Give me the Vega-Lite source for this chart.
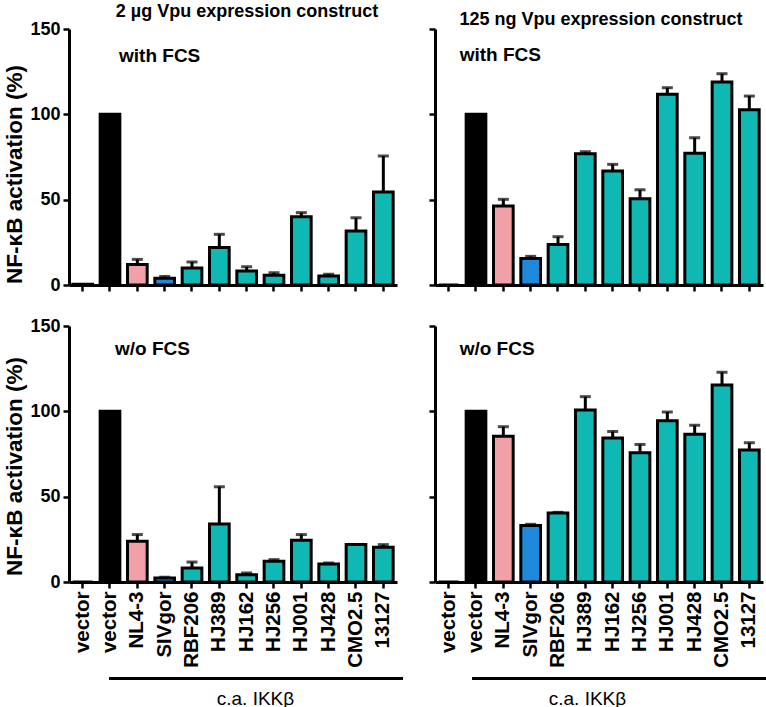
{
  "$schema": "https://vega.github.io/schema/vega-lite/v6.json",
  "background": "white",
  "padding": {"left": 2, "top": 3, "right": 0, "bottom": 0},
  "config": {
    "font": "Liberation Sans",
    "view": {"stroke": null},
    "axis": {
      "domainColor": "black", "domainWidth": 3, "tickColor": "black", "tickWidth": 2.5, "tickSize": 6,
      "labelFont": "Liberation Sans", "labelFontSize": 18, "labelFontWeight": "bold", "labelColor": "black", "labelPadding": 3,
      "titleFont": "Liberation Sans", "titleFontSize": 18, "titleFontWeight": "bold", "titleColor": "black", "grid": false
    },
    "title": {"font": "Liberation Sans", "fontSize": 18, "fontWeight": "bold", "color": "black", "anchor": "middle", "offset": -1}
  },
  "datasets": {
    "bars": [
      {"panel": "TL", "condition": "with FCS", "key": "v0", "group": "control", "value": 0.5},
      {"panel": "TL", "condition": "with FCS", "key": "v1", "group": "control", "value": 100},
      {"panel": "TL", "condition": "with FCS", "key": "NL4-3", "group": "NL4-3", "value": 12, "err": 15},
      {"panel": "TL", "condition": "with FCS", "key": "SIVgor", "group": "SIVgor", "value": 4, "err": 5},
      {"panel": "TL", "condition": "with FCS", "key": "RBF206", "group": "Vpu", "value": 10, "err": 13.5},
      {"panel": "TL", "condition": "with FCS", "key": "HJ389", "group": "Vpu", "value": 22, "err": 29.7},
      {"panel": "TL", "condition": "with FCS", "key": "HJ162", "group": "Vpu", "value": 8.2, "err": 10.7},
      {"panel": "TL", "condition": "with FCS", "key": "HJ256", "group": "Vpu", "value": 5.7, "err": 7.2},
      {"panel": "TL", "condition": "with FCS", "key": "HJ001", "group": "Vpu", "value": 40, "err": 42.4},
      {"panel": "TL", "condition": "with FCS", "key": "HJ428", "group": "Vpu", "value": 5.3, "err": 6.3},
      {"panel": "TL", "condition": "with FCS", "key": "CMO2.5", "group": "Vpu", "value": 31.6, "err": 39.4},
      {"panel": "TL", "condition": "with FCS", "key": "13127", "group": "Vpu", "value": 54.5, "err": 75.6},

      {"panel": "TR", "condition": "with FCS", "key": "v0", "group": "control", "value": 0},
      {"panel": "TR", "condition": "with FCS", "key": "v1", "group": "control", "value": 100},
      {"panel": "TR", "condition": "with FCS", "key": "NL4-3", "group": "NL4-3", "value": 46.3, "err": 50.2},
      {"panel": "TR", "condition": "with FCS", "key": "SIVgor", "group": "SIVgor", "value": 15.6, "err": 16.8},
      {"panel": "TR", "condition": "with FCS", "key": "RBF206", "group": "Vpu", "value": 23.8, "err": 28.3},
      {"panel": "TR", "condition": "with FCS", "key": "HJ389", "group": "Vpu", "value": 76.9, "err": 78.1},
      {"panel": "TR", "condition": "with FCS", "key": "HJ162", "group": "Vpu", "value": 66.8, "err": 70.7},
      {"panel": "TR", "condition": "with FCS", "key": "HJ256", "group": "Vpu", "value": 50.6, "err": 55.8},
      {"panel": "TR", "condition": "with FCS", "key": "HJ001", "group": "Vpu", "value": 111.7, "err": 115.6},
      {"panel": "TR", "condition": "with FCS", "key": "HJ428", "group": "Vpu", "value": 77.2, "err": 86.3},
      {"panel": "TR", "condition": "with FCS", "key": "CMO2.5", "group": "Vpu", "value": 118.9, "err": 123.8},
      {"panel": "TR", "condition": "with FCS", "key": "13127", "group": "Vpu", "value": 102.7, "err": 110.7},

      {"panel": "BL", "condition": "w/o FCS", "key": "v0", "group": "control", "value": 0},
      {"panel": "BL", "condition": "w/o FCS", "key": "v1", "group": "control", "value": 100},
      {"panel": "BL", "condition": "w/o FCS", "key": "NL4-3", "group": "NL4-3", "value": 23.9, "err": 27.8},
      {"panel": "BL", "condition": "w/o FCS", "key": "SIVgor", "group": "SIVgor", "value": 2.4, "err": 2.8},
      {"panel": "BL", "condition": "w/o FCS", "key": "RBF206", "group": "Vpu", "value": 8.2, "err": 11.7},
      {"panel": "BL", "condition": "w/o FCS", "key": "HJ389", "group": "Vpu", "value": 34, "err": 55.8},
      {"panel": "BL", "condition": "w/o FCS", "key": "HJ162", "group": "Vpu", "value": 4.3, "err": 5.3},
      {"panel": "BL", "condition": "w/o FCS", "key": "HJ256", "group": "Vpu", "value": 12.1, "err": 13.1},
      {"panel": "BL", "condition": "w/o FCS", "key": "HJ001", "group": "Vpu", "value": 24.5, "err": 27.8},
      {"panel": "BL", "condition": "w/o FCS", "key": "HJ428", "group": "Vpu", "value": 10.6, "err": 11.2},
      {"panel": "BL", "condition": "w/o FCS", "key": "CMO2.5", "group": "Vpu", "value": 21.9},
      {"panel": "BL", "condition": "w/o FCS", "key": "13127", "group": "Vpu", "value": 20.4, "err": 21.9},

      {"panel": "BR", "condition": "w/o FCS", "key": "v0", "group": "control", "value": 0},
      {"panel": "BR", "condition": "w/o FCS", "key": "v1", "group": "control", "value": 100},
      {"panel": "BR", "condition": "w/o FCS", "key": "NL4-3", "group": "NL4-3", "value": 85.4, "err": 91},
      {"panel": "BR", "condition": "w/o FCS", "key": "SIVgor", "group": "SIVgor", "value": 33.1, "err": 33.8},
      {"panel": "BR", "condition": "w/o FCS", "key": "RBF206", "group": "Vpu", "value": 40.4, "err": 40.8},
      {"panel": "BR", "condition": "w/o FCS", "key": "HJ389", "group": "Vpu", "value": 100.8, "err": 108.6},
      {"panel": "BR", "condition": "w/o FCS", "key": "HJ162", "group": "Vpu", "value": 84.4, "err": 88.2},
      {"panel": "BR", "condition": "w/o FCS", "key": "HJ256", "group": "Vpu", "value": 75.8, "err": 80.6},
      {"panel": "BR", "condition": "w/o FCS", "key": "HJ001", "group": "Vpu", "value": 94.5, "err": 99.6},
      {"panel": "BR", "condition": "w/o FCS", "key": "HJ428", "group": "Vpu", "value": 86.5, "err": 91.8},
      {"panel": "BR", "condition": "w/o FCS", "key": "CMO2.5", "group": "Vpu", "value": 115.5, "err": 122.9},
      {"panel": "BR", "condition": "w/o FCS", "key": "13127", "group": "Vpu", "value": 77.3, "err": 81.6}
    ]
  },
  "columns": 2,
  "bounds": "flush",
  "spacing": {"row": 41, "column": 38},
  "concat": [
    {
      "width": 328, "height": 256,
      "title": {"text": "2 µg Vpu expression construct", "dx": 14},
      "data": {"name": "bars"},
      "transform": [{"filter": "datum.panel == 'TL'"}],
      "layer": [
        {
          "mark": {"type": "bar", "stroke": "black", "strokeWidth": 3},
          "encoding": {
            "x": {"field": "key", "type": "nominal",
                  "scale": {"domain": ["v0","v1","NL4-3","SIVgor","RBF206","HJ389","HJ162","HJ256","HJ001","HJ428","CMO2.5","13127"], "paddingInner": 0.28, "paddingOuter": 0.14},
                  "axis": {"labels": false, "title": null}},
            "y": {"field": "value", "type": "quantitative", "scale": {"domain": [0, 150], "nice": false},
                  "axis": {"values": [0, 50, 100, 150], "title": "NF-κB activation (%)", "titleFontSize": 22.5, "titleX": -48, "titleY": 145, "titleAlign": "center", "titleBaseline": "alphabetic", "titleAngle": -90}},
            "color": {"field": "group", "type": "nominal", "legend": null,
                      "scale": {"domain": ["control","NL4-3","SIVgor","Vpu"], "range": ["#000000","#F0A0A6","#1E88DA","#10B8B3"]}}
          }
        },
        {
          "transform": [{"filter": "isValid(datum.err)"}],
          "mark": {"type": "rule", "strokeWidth": 3, "color": "black"},
          "encoding": {"x": {"field": "key", "type": "nominal"}, "y": {"field": "value", "type": "quantitative"}, "y2": {"field": "err"}}
        },
        {
          "transform": [{"filter": "isValid(datum.err)"}],
          "mark": {"type": "tick", "thickness": 3, "size": 11, "color": "black"},
          "encoding": {"x": {"field": "key", "type": "nominal"}, "y": {"field": "err", "type": "quantitative"}}
        },
        {
          "transform": [{"filter": "datum.key == 'v1'"}],
          "mark": {"type": "text", "align": "left", "baseline": "middle", "dx": 9, "fontSize": 19, "fontWeight": "bold", "color": "black"},
          "encoding": {"x": {"field": "key", "type": "nominal"}, "y": {"datum": 134}, "text": {"field": "condition"}}
        }
      ]
    },
    {
      "width": 328, "height": 256,
      "title": {"text": "125 ng Vpu expression construct", "dx": 2},
      "data": {"name": "bars"},
      "transform": [{"filter": "datum.panel == 'TR'"}],
      "layer": [
        {
          "mark": {"type": "bar", "stroke": "black", "strokeWidth": 3},
          "encoding": {
            "x": {"field": "key", "type": "nominal",
                  "scale": {"domain": ["v0","v1","NL4-3","SIVgor","RBF206","HJ389","HJ162","HJ256","HJ001","HJ428","CMO2.5","13127"], "paddingInner": 0.28, "paddingOuter": 0.14},
                  "axis": {"labels": false, "title": null}},
            "y": {"field": "value", "type": "quantitative", "scale": {"domain": [0, 150], "nice": false},
                  "axis": {"values": [0, 50, 100, 150], "labels": false, "title": null}},
            "color": {"field": "group", "type": "nominal", "legend": null,
                      "scale": {"domain": ["control","NL4-3","SIVgor","Vpu"], "range": ["#000000","#F0A0A6","#1E88DA","#10B8B3"]}}
          }
        },
        {
          "transform": [{"filter": "isValid(datum.err)"}],
          "mark": {"type": "rule", "strokeWidth": 3, "color": "black"},
          "encoding": {"x": {"field": "key", "type": "nominal"}, "y": {"field": "value", "type": "quantitative"}, "y2": {"field": "err"}}
        },
        {
          "transform": [{"filter": "isValid(datum.err)"}],
          "mark": {"type": "tick", "thickness": 3, "size": 11, "color": "black"},
          "encoding": {"x": {"field": "key", "type": "nominal"}, "y": {"field": "err", "type": "quantitative"}}
        },
        {
          "transform": [{"filter": "datum.key == 'v0'"}],
          "mark": {"type": "text", "align": "left", "baseline": "middle", "dx": 11, "fontSize": 19, "fontWeight": "bold", "color": "black"},
          "encoding": {"x": {"field": "key", "type": "nominal"}, "y": {"datum": 134.5}, "text": {"field": "condition"}}
        }
      ]
    },
    {
      "width": 328, "height": 256,
      "data": {"name": "bars"},
      "transform": [{"filter": "datum.panel == 'BL'"}],
      "layer": [
        {
          "mark": {"type": "bar", "stroke": "black", "strokeWidth": 3},
          "encoding": {
            "x": {"field": "key", "type": "nominal",
                  "scale": {"domain": ["v0","v1","NL4-3","SIVgor","RBF206","HJ389","HJ162","HJ256","HJ001","HJ428","CMO2.5","13127"], "paddingInner": 0.28, "paddingOuter": 0.14},
                  "axis": {"labelAngle": -90, "labelAlign": "right", "labelBaseline": "middle", "labelFontSize": 20.5,
                           "labelExpr": "datum.value == 'v0' || datum.value == 'v1' ? 'vector' : datum.label",
                           "title": "c.a. IKKβ", "titleFontWeight": "normal", "titleFontSize": 19, "titleX": 186, "titleY": 116, "titleBaseline": "middle"}},
            "y": {"field": "value", "type": "quantitative", "scale": {"domain": [0, 150], "nice": false},
                  "axis": {"values": [0, 50, 100, 150], "title": "NF-κB activation (%)", "titleFontSize": 22.5, "titleX": -48, "titleY": 140, "titleAlign": "center", "titleBaseline": "alphabetic", "titleAngle": -90}},
            "color": {"field": "group", "type": "nominal", "legend": null,
                      "scale": {"domain": ["control","NL4-3","SIVgor","Vpu"], "range": ["#000000","#F0A0A6","#1E88DA","#10B8B3"]}}
          }
        },
        {
          "transform": [{"filter": "isValid(datum.err)"}],
          "mark": {"type": "rule", "strokeWidth": 3, "color": "black"},
          "encoding": {"x": {"field": "key", "type": "nominal"}, "y": {"field": "value", "type": "quantitative"}, "y2": {"field": "err"}}
        },
        {
          "transform": [{"filter": "isValid(datum.err)"}],
          "mark": {"type": "tick", "thickness": 3, "size": 11, "color": "black"},
          "encoding": {"x": {"field": "key", "type": "nominal"}, "y": {"field": "err", "type": "quantitative"}}
        },
        {
          "transform": [{"filter": "datum.key == 'v1'"}],
          "mark": {"type": "text", "align": "left", "baseline": "middle", "dx": 5, "fontSize": 19, "fontWeight": "bold", "color": "black"},
          "encoding": {"x": {"field": "key", "type": "nominal"}, "y": {"datum": 136.5}, "text": {"field": "condition"}}
        },
        {
          "transform": [{"filter": "datum.key == 'v1'"}],
          "mark": {"type": "rule", "strokeWidth": 3, "color": "black", "clip": false},
          "encoding": {"x": {"field": "key", "type": "nominal", "bandPosition": 0.45}, "x2": {"datum": "13127", "bandPosition": 1.5}, "y": {"datum": -56.5}}
        }
      ]
    },
    {
      "width": 328, "height": 256,
      "data": {"name": "bars"},
      "transform": [{"filter": "datum.panel == 'BR'"}],
      "layer": [
        {
          "mark": {"type": "bar", "stroke": "black", "strokeWidth": 3},
          "encoding": {
            "x": {"field": "key", "type": "nominal",
                  "scale": {"domain": ["v0","v1","NL4-3","SIVgor","RBF206","HJ389","HJ162","HJ256","HJ001","HJ428","CMO2.5","13127"], "paddingInner": 0.28, "paddingOuter": 0.14},
                  "axis": {"labelAngle": -90, "labelAlign": "right", "labelBaseline": "middle", "labelFontSize": 20.5,
                           "labelExpr": "datum.value == 'v0' || datum.value == 'v1' ? 'vector' : datum.label",
                           "title": "c.a. IKKβ", "titleFontWeight": "normal", "titleFontSize": 19, "titleX": 152, "titleY": 116, "titleBaseline": "middle"}},
            "y": {"field": "value", "type": "quantitative", "scale": {"domain": [0, 150], "nice": false},
                  "axis": {"values": [0, 50, 100, 150], "labels": false, "title": null}},
            "color": {"field": "group", "type": "nominal", "legend": null,
                      "scale": {"domain": ["control","NL4-3","SIVgor","Vpu"], "range": ["#000000","#F0A0A6","#1E88DA","#10B8B3"]}}
          }
        },
        {
          "transform": [{"filter": "isValid(datum.err)"}],
          "mark": {"type": "rule", "strokeWidth": 3, "color": "black"},
          "encoding": {"x": {"field": "key", "type": "nominal"}, "y": {"field": "value", "type": "quantitative"}, "y2": {"field": "err"}}
        },
        {
          "transform": [{"filter": "isValid(datum.err)"}],
          "mark": {"type": "tick", "thickness": 3, "size": 11, "color": "black"},
          "encoding": {"x": {"field": "key", "type": "nominal"}, "y": {"field": "err", "type": "quantitative"}}
        },
        {
          "transform": [{"filter": "datum.key == 'v0'"}],
          "mark": {"type": "text", "align": "left", "baseline": "middle", "dx": 11, "fontSize": 19, "fontWeight": "bold", "color": "black"},
          "encoding": {"x": {"field": "key", "type": "nominal"}, "y": {"datum": 136.5}, "text": {"field": "condition"}}
        },
        {
          "transform": [{"filter": "datum.key == 'v1'"}],
          "mark": {"type": "rule", "strokeWidth": 3, "color": "black", "clip": false},
          "encoding": {"x": {"field": "key", "type": "nominal", "bandPosition": 0.3}, "x2": {"datum": "13127", "bandPosition": 1.35}, "y": {"datum": -56.5}}
        }
      ]
    }
  ]
}
